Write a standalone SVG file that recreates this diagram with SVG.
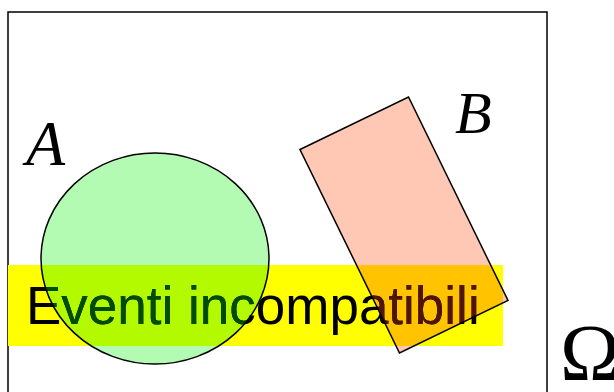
<svg xmlns="http://www.w3.org/2000/svg" width="614" height="392" viewBox="0 0 614 392">
<defs>
<style>
.outline{fill:none;stroke:#000;stroke-width:1.5}
.lbl{font-family:"Liberation Serif",serif;font-style:italic;fill:#000}
.ev{font-family:"Liberation Sans",Arial,sans-serif;font-size:53px}
</style>
<clipPath id="cE"><ellipse cx="155" cy="258.5" rx="114" ry="105.5"/></clipPath>
<clipPath id="cB"><polygon points="300,149.5 408.5,97 508,300.5 399.5,353"/></clipPath>
</defs>
<rect width="614" height="392" fill="#fff"/>
<rect id="omega-frame" x="8" y="12" width="539" height="400" class="outline"/>
<g id="A">
<ellipse cx="155" cy="258.5" rx="114" ry="105.5" fill="#b3fbb3"/>
</g>
<g id="B">
<polygon points="300,149.5 408.5,97 508,300.5 399.5,353" fill="#ffc8b4"/>
</g>
<g id="band">
<rect x="8" y="265" width="495" height="81" fill="#ffff00"/>
<rect x="8" y="265" width="495" height="81" fill="#b3f900" clip-path="url(#cE)"/>
<rect x="8" y="265" width="495" height="81" fill="#ffc300" clip-path="url(#cB)"/>
<text x="26" y="324" class="ev" fill="#000">Eventi incompatibili</text>
<text x="26" y="324" class="ev" fill="#004c00" clip-path="url(#cE)">Eventi incompatibili</text>
<text x="26" y="324" class="ev" fill="#501400" clip-path="url(#cB)">Eventi incompatibili</text>
</g>
<g id="outlines">
<ellipse cx="155" cy="258.5" rx="114" ry="105.5" class="outline"/>
<polygon points="300,149.5 408.5,97 508,300.5 399.5,353" class="outline"/>
</g>
<text x="26" y="165" class="lbl" font-size="64">A</text>
<text x="455" y="133" class="lbl" font-size="60">B</text>
<text x="560" y="380" font-family="Liberation Serif,serif" font-size="81">Ω</text>
</svg>
